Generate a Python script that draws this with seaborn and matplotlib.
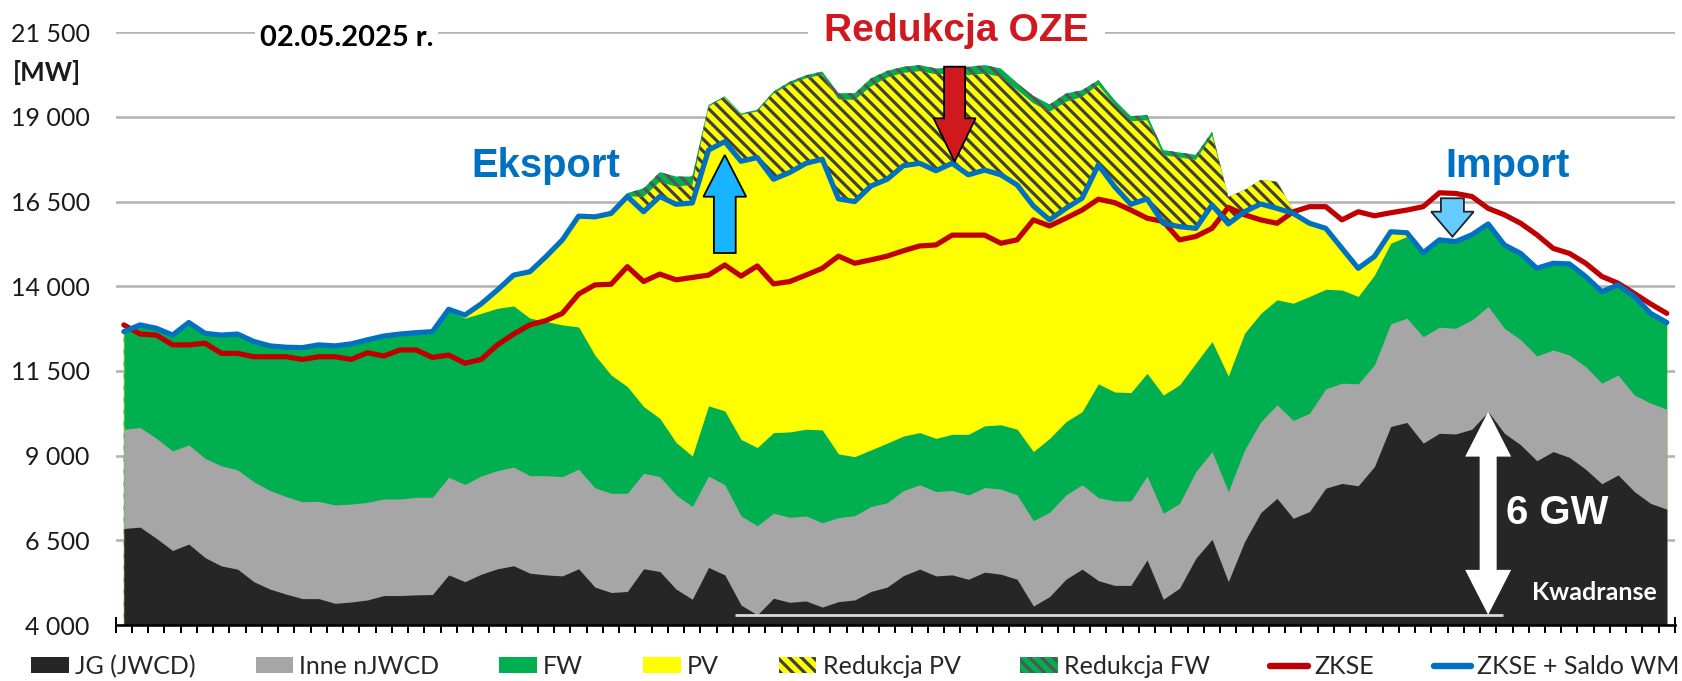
import numpy as np
import pandas as pd
import matplotlib
matplotlib.use("Agg")
import matplotlib.pyplot as plt
import seaborn as sns
from matplotlib.patches import Polygon, Patch
from matplotlib.lines import Line2D
from matplotlib.transforms import Affine2D, ScaledTranslation
from matplotlib.ticker import FuncFormatter

# ---------------- data (MW, 96 quarter-hours, cumulative stack levels) ----------------
kwadranse = list(range(1, 97))

jg_top = [6850, 6890, 6560, 6200, 6390, 5990, 5745, 5650, 5280, 5060, 4910, 4780, 4780, 4640, 4680, 4740,
          4870, 4870, 4890, 4900, 5480, 5280, 5500, 5660, 5750, 5530, 5480, 5450, 5660, 5120, 4960, 4990,
          5660, 5580, 5060, 4760, 5700, 5480, 4590, 4300, 4790, 4670, 4710, 4530, 4690, 4740, 4990, 5120,
          5460, 5650, 5450, 5480, 5350, 5560, 5500, 5350, 4560, 4840, 5350, 5650, 5310, 5170, 5170, 5920,
          4760, 5090, 5970, 6530, 5280, 6460, 7320, 7740, 7150, 7350, 8040, 8180, 8110, 8680, 9860, 9980,
          9370, 9660, 9640, 9780, 10300, 9660, 9320, 8850, 9120, 8950, 8600, 8170, 8430, 7940, 7590, 7420]

njwcd_top = [9780, 9830, 9510, 9140, 9320, 8920, 8700, 8580, 8230, 7970, 7790, 7640, 7650, 7545, 7570, 7620,
             7720, 7720, 7770, 7770, 8360, 8150, 8400, 8560, 8660, 8410, 8410, 8380, 8600, 8050, 7890, 7890,
             8480, 8380, 7840, 7500, 8400, 8140, 7220, 6930, 7300, 7180, 7220, 7020, 7170, 7230, 7500, 7610,
             7970, 8140, 7940, 7970, 7840, 8060, 8010, 7840, 7080, 7330, 7840, 8140, 7760, 7660, 7660, 8400,
             7300, 7590, 8530, 9120, 7940, 9170, 10000, 10500, 10040, 10250, 10970, 11140, 11120, 11680, 12890, 13060,
             12510, 12790, 12760, 13010, 13400, 12760, 12420, 11940, 12120, 11970, 11630, 11140, 11380, 10790, 10550, 10370]

fw_top = [12620, 12820, 12720, 12520, 12890, 12570, 12520, 12550, 12330, 12200, 12160, 12150, 12230, 12200, 12260, 12380,
          12490, 12550, 12590, 12620, 13280, 13060, 13200, 13350, 13420, 13060, 12960, 12860, 12800, 11970, 11380, 11040,
          10450, 10100, 9390, 8990, 10470, 10320, 9480, 9240, 9680, 9700, 9780, 9760, 9050, 8970, 9170, 9370,
          9580, 9680, 9510, 9630, 9630, 9880, 9910, 9780, 9120, 9510, 10000, 10300, 11120, 10880, 10860, 11430,
          10790, 11090, 11730, 12370, 11350, 12610, 13200, 13600, 13500, 13700, 13910, 13890, 13700, 14330, 15270, 15470,
          14950, 15330, 15280, 15480, 15800, 15180, 14930, 14490, 14640, 14620, 14250, 13800, 14000, 13660, 13160, 12890]

pv_top = [12620, 12820, 12720, 12520, 12890, 12570, 12520, 12550, 12330, 12200, 12160, 12150, 12230, 12200, 12260, 12380,
          12490, 12550, 12590, 12620, 13280, 13150, 13480, 13890, 14330, 14430, 14880, 15370, 16070, 16050, 16150, 16650,
          16200, 16650, 16420, 16460, 18020, 18270, 17690, 17800, 17160, 17360, 17630, 17750, 16580, 16500, 16960, 17160,
          17560, 17630, 17410, 17630, 17290, 17430, 17290, 16990, 16370, 15960, 16300, 16600, 17580, 16940, 16420, 16580,
          15860, 15760, 15710, 16400, 15840, 16200, 16430, 16300, 16150, 15860, 15710, 15120, 14530, 14880, 15610, 15580,
          14950, 15330, 15280, 15480, 15800, 15180, 14930, 14490, 14640, 14620, 14250, 13800, 14000, 13660, 13160, 12890]

red_pv_top = [12620, 12820, 12720, 12520, 12890, 12570, 12520, 12550, 12330, 12200, 12160, 12150, 12230, 12200, 12260, 12380,
              12490, 12550, 12590, 12620, 13280, 13150, 13480, 13890, 14330, 14430, 14880, 15370, 16070, 16050, 16150, 16650,
              16640, 17080, 16940, 16990, 19300, 19580, 19060, 19160, 19690, 19960, 20140, 20240, 19520, 19500, 19900, 20160,
              20300, 20350, 20260, 20280, 20230, 20280, 20180, 19800, 19400, 19150, 19440, 19590, 19940, 19350, 18870, 18900,
              17870, 17800, 17730, 18440, 16640, 16840, 17140, 17090, 16250, 15860, 15710, 15120, 14530, 14880, 15610, 15580,
              14950, 15330, 15280, 15480, 15800, 15180, 14930, 14490, 14640, 14620, 14250, 13800, 14000, 13660, 13160, 12890]

red_fw_top = [12620, 12820, 12720, 12520, 12890, 12570, 12520, 12550, 12330, 12200, 12160, 12150, 12230, 12200, 12260, 12380,
              12490, 12550, 12590, 12620, 13280, 13150, 13480, 13890, 14330, 14430, 14880, 15370, 16070, 16050, 16230, 16750,
              16890, 17370, 17240, 17240, 19350, 19610, 19100, 19210, 19750, 20040, 20230, 20340, 19700, 19700, 20140, 20360,
              20480, 20530, 20430, 20450, 20480, 20530, 20430, 20000, 19620, 19370, 19690, 19790, 20090, 19500, 19020, 19060,
              18020, 17950, 17880, 18560, 16640, 16840, 17140, 17090, 16250, 15860, 15710, 15120, 14530, 14880, 15610, 15580,
              14950, 15330, 15280, 15480, 15800, 15180, 14930, 14490, 14640, 14620, 14250, 13800, 14000, 13660, 13160, 12890]

zkse = [12860, 12590, 12560, 12270, 12270, 12320, 12020, 12020, 11920, 11920, 11920, 11840, 11920, 11920, 11840, 12040,
        11940, 12120, 12120, 11900, 11970, 11730, 11840, 12270, 12590, 12860, 12990, 13200, 13770, 14040, 14060, 14580,
        14140, 14360, 14190, 14260, 14330, 14630, 14300, 14600, 14070, 14140, 14330, 14530, 14890, 14680, 14780, 14890,
        15050, 15190, 15220, 15510, 15510, 15510, 15270, 15370, 15960, 15780, 16010, 16250, 16570, 16470, 16250, 16010,
        15910, 15370, 15470, 15710, 16330, 16110, 15960, 15860, 16200, 16350, 16350, 15960, 16200, 16080, 16170, 16250,
        16350, 16760, 16740, 16650, 16300, 16110, 15860, 15520, 15120, 14970, 14680, 14290, 14090, 13790, 13480, 13200]

zkse_saldo = [12660, 12860, 12760, 12560, 12930, 12610, 12560, 12590, 12370, 12240, 12200, 12190, 12270, 12240, 12300, 12420,
              12530, 12590, 12630, 12660, 13320, 13150, 13480, 13890, 14330, 14430, 14880, 15370, 16070, 16050, 16150, 16650,
              16200, 16650, 16420, 16460, 18020, 18270, 17690, 17800, 17160, 17360, 17630, 17750, 16580, 16500, 16960, 17160,
              17560, 17630, 17410, 17630, 17290, 17430, 17290, 16990, 16370, 15960, 16300, 16600, 17580, 16940, 16420, 16580,
              15860, 15760, 15710, 16400, 15840, 16200, 16430, 16300, 16150, 15860, 15710, 15120, 14530, 14880, 15610, 15580,
              14990, 15370, 15320, 15520, 15840, 15220, 14970, 14530, 14680, 14660, 14290, 13840, 14040, 13700, 13200, 12930]

y_ticks = [4000, 6500, 9000, 11500, 14000, 16500, 19000, 21500]
legend_labels = ["JG (JWCD)", "Inne nJWCD", "FW", "PV", "Redukcja PV", "Redukcja FW", "ZKSE", "ZKSE + Saldo WM"]

# ---------------- style ----------------
C_JG, C_INNE, C_FW, C_PV = "#262626", "#a6a6a6", "#00b050", "#ffff00"
C_HATCH = "#3f3f3f"
C_RED, C_BLUE = "#c00000", "#0070c0"
HATCH = "\\\\\\\\"

sns.set_theme(style="white")
plt.rcParams['font.family'] = ['Lato', 'DejaVu Sans']
plt.rcParams['hatch.linewidth'] = 1.6

DPI = 144
fig = plt.figure(figsize=(1682 / DPI, 681 / DPI), dpi=DPI)
ax = fig.add_axes([0.0688, 0.0822, 0.9270, 0.8705])
ax.set_xlim(-0.5, 95.5)
ax.set_ylim(y_ticks[0], y_ticks[-1])

df = pd.DataFrame({"q": np.arange(len(kwadranse)), "jg": jg_top, "inne": njwcd_top, "fw": fw_top,
                   "pv": pv_top, "rpv": red_pv_top, "rfw": red_fw_top,
                   "zkse": zkse, "saldo": zkse_saldo})
base = y_ticks[0]

# stacked areas drawn from the top level down, each filled from the axis floor
ax.fill_between(df.q, base, df.rfw, facecolor=C_FW, edgecolor="#555555", hatch=HATCH, lw=0, zorder=1.0)
ax.fill_between(df.q, base, df.rpv, facecolor=C_PV, edgecolor=C_HATCH, hatch=HATCH, lw=0, zorder=1.1)
ax.fill_between(df.q, base, df.pv, facecolor=C_PV, lw=0, zorder=1.2)
ax.fill_between(df.q, base, df.fw, facecolor=C_FW, lw=0, zorder=1.3)
ax.fill_between(df.q, base, df.inne, facecolor=C_INNE, lw=0, zorder=1.4)
ax.fill_between(df.q, base, df.jg, facecolor=C_JG, lw=0, zorder=1.5)

sns.lineplot(data=df, x="q", y="zkse", color=C_RED, lw=2.6, ax=ax, zorder=4, legend=False)
sns.lineplot(data=df, x="q", y="saldo", color=C_BLUE, lw=2.6, ax=ax, zorder=5, legend=False)
ax.set_xlabel("")
ax.set_ylabel("")

# axes styling
for s in ["top", "right", "left"]:
    ax.spines[s].set_visible(False)
ax.spines["bottom"].set_color("black")
ax.spines["bottom"].set_linewidth(1.3)
ax.spines["bottom"].set_zorder(6)
ax.set_yticks(y_ticks)
ax.yaxis.set_major_formatter(FuncFormatter(lambda v, p: f"{int(v):,}".replace(",", " ")))
ax.grid(axis="y", color="#b4b4b4", lw=1.3)
ax.grid(axis="x", visible=False)
ax.set_axisbelow(True)
ax.tick_params(axis="y", length=0, pad=13, labelsize=12.5, labelcolor="#1a1a1a")
ax.set_xticks(np.arange(-0.5, 96, 1))
ax.set_xticklabels([])
ax.tick_params(axis="x", bottom=True, direction="inout", length=8, width=1.0, color="black")

# ---------------- annotations ----------------
ax.text(13.7, 21093, "02.05.2025 r.", ha="center", va="baseline", fontsize=14.5, fontweight="bold",
        color="black", bbox=dict(fc="white", ec="none", pad=2.5), zorder=7, clip_on=False)
fig.text(0.0075, 0.8815, "[MW]", ha="left", va="baseline", fontsize=13, fontweight="bold", color="#1a1a1a")
ax.text(51.25, 21249, "Redukcja OZE", ha="center", va="baseline", fontsize=19.5, fontweight="bold",
        color="#d0191f", family=["Liberation Sans", "DejaVu Sans"],
        bbox=dict(fc="white", ec="none", pad=8), zorder=7, clip_on=False)
ax.text(26.0, 17226, "Eksport", ha="center", va="baseline", fontsize=20, fontweight="bold",
        color=C_BLUE, family=["Liberation Sans", "DejaVu Sans"], zorder=7)
ax.text(85.17, 17226, "Import", ha="center", va="baseline", fontsize=20, fontweight="bold",
        color=C_BLUE, family=["Liberation Sans", "DejaVu Sans"], zorder=7)
ax.text(88.28, 6984, "6 GW", ha="center", va="baseline", fontsize=20, fontweight="bold",
        color="white", family=["Liberation Sans", "DejaVu Sans"], zorder=7)
ax.text(94.4, 4741, "Kwadranse", ha="right", va="baseline", fontsize=12.5, fontweight="bold",
        color="white", zorder=7)


def px_poly(xd, yd, verts, **kw):
    tr = Affine2D() + ScaledTranslation(xd, yd, ax.transData)
    poly = Polygon(verts, closed=True, transform=tr, clip_on=False, **kw)
    ax.add_artist(poly)
    return poly


up = [(0, 0), (-21.4, -41.7), (-10.9, -41.7), (-10.9, -98), (10.9, -98), (10.9, -41.7), (21.4, -41.7)]
px_poly(37.0, 17875, up, fc="#19b4ff", ec="black", lw=0.9, zorder=8)
down = [(0, 0), (-21, 43.4), (-10.5, 43.4), (-10.5, 95), (10.5, 95), (10.5, 43.4), (21, 43.4)]
px_poly(51.15, 17678, down, fc="#d0191f", ec="black", lw=0.9, zorder=8)
imp = [(0, 0), (-21.3, 25), (-11.5, 25), (-11.5, 38.4), (11.5, 38.4), (11.5, 25), (21.3, 25)]
px_poly(81.8, 15464, imp, fc="#66ccff", ec="#222222", lw=0.9, zorder=8)

# 6 GW double arrow between min and max of JG
jg_min, jg_max = min(jg_top), max(jg_top)
ax.hlines(jg_min, 37.6, 84.9, color="#d9d9d9", lw=1.4, zorder=6)
H = ax.transData.transform((0, jg_max))[1] - ax.transData.transform((0, jg_min))[1]
dbl = [(0, 0), (23, 45), (8.5, 45), (8.5, H - 45), (23, H - 45), (0, H), (-23, H - 45), (-8.5, H - 45),
       (-8.5, 45), (-23, 45)]
px_poly(84.0, jg_min, dbl, fc="white", ec="none", lw=0, zorder=8)

# ---------------- legend ----------------
handles = [
    Patch(fc=C_JG, lw=0, label=legend_labels[0]),
    Patch(fc=C_INNE, lw=0, label=legend_labels[1]),
    Patch(fc=C_FW, lw=0, label=legend_labels[2]),
    Patch(fc=C_PV, lw=0, label=legend_labels[3]),
    Patch(fc=C_PV, ec=C_HATCH, hatch=HATCH, lw=0, label=legend_labels[4]),
    Patch(fc=C_FW, ec="#555555", hatch=HATCH, lw=0, label=legend_labels[5]),
    Line2D([], [], color=C_RED, lw=3.2, solid_capstyle="round", label=legend_labels[6]),
    Line2D([], [], color=C_BLUE, lw=3.2, solid_capstyle="round", label=legend_labels[7]),
]
fig.legend(handles=handles, loc="center", bbox_to_anchor=(0.5086, 0.0215), ncol=8, frameon=False,
           fontsize=12.5, handlelength=1.5, handleheight=0.6, handletextpad=0.25, columnspacing=2.4,
           borderaxespad=0, borderpad=0)

fig.savefig("out.png", dpi=DPI)
